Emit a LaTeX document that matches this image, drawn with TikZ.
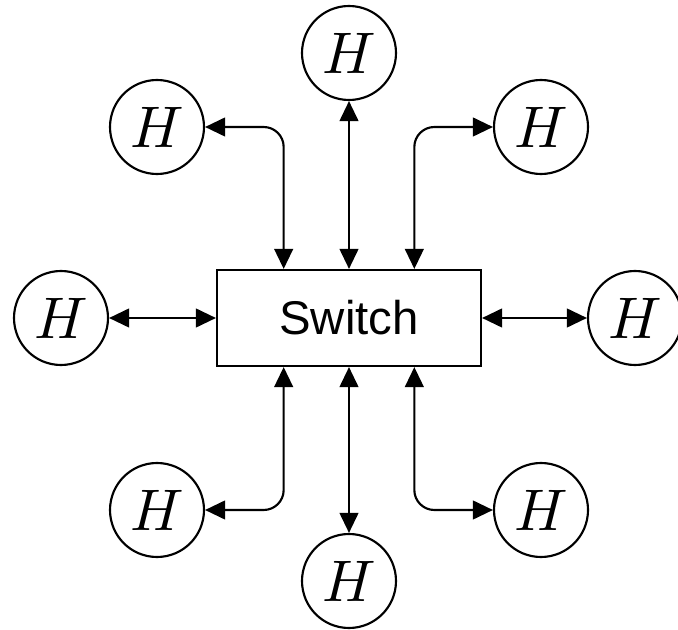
\documentclass[tikz,border=0pt]{standalone}
\usepackage{fix-cm}
\usepackage{fontspec}
\setsansfont{Liberation Sans}
\usetikzlibrary{arrows.meta}

\newcommand{\hostlabel}{\scalebox{4.4}{$H$}}

\begin{document}
\begin{tikzpicture}[
    x=0.75pt, y=-0.75pt,
    hostnode/.style={draw, circle, line width=1.6pt, inner sep=0pt, minimum size=70.5pt},
    switchbox/.style={draw, rectangle, line width=1.6pt, minimum width=198pt, minimum height=72pt, font=\sffamily\fontsize{35.5}{42}\selectfont},
    link/.style={{Triangle[length=15pt,width=14pt]}-{Triangle[length=15pt,width=14pt]}, line width=1.6pt, rounded corners=15pt}
]
    \useasboundingbox (0,0) rectangle (678,630);
    \node[switchbox] (sw) at (349,318) {Switch};

    \node[hostnode] (top) at (349,53) {\hostlabel};
    \node[hostnode] (tl) at (157,127) {\hostlabel};
    \node[hostnode] (tr) at (541,127) {\hostlabel};
    \node[hostnode] (left) at (61,318) {\hostlabel};
    \node[hostnode] (right) at (635,318) {\hostlabel};
    \node[hostnode] (bl) at (157,510) {\hostlabel};
    \node[hostnode] (bottom) at (349,581) {\hostlabel};
    \node[hostnode] (br) at (541,510) {\hostlabel};

    \draw[link] ([xshift=-49pt]sw.north) |- (tl);
    \draw[link] (sw.north) -- (top);
    \draw[link] ([xshift=49pt]sw.north) |- (tr);
    \draw[link] (sw.west) -- (left);
    \draw[link] (sw.east) -- (right);
    \draw[link] ([xshift=-49pt]sw.south) |- (bl);
    \draw[link] (sw.south) -- (bottom);
    \draw[link] ([xshift=49pt]sw.south) |- (br);
\end{tikzpicture}
\end{document}
